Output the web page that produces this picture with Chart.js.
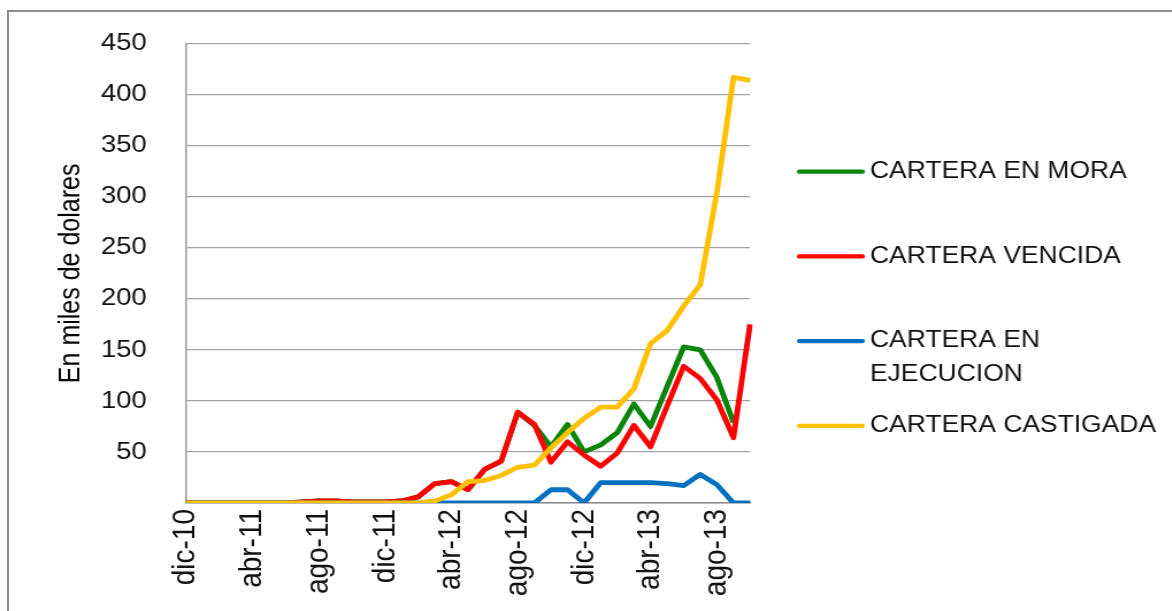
<!DOCTYPE html>
<html>
<head>
<meta charset="utf-8">
<script src="https://cdn.jsdelivr.net/npm/chart.js@4.4.1/dist/chart.umd.min.js"></script>
<style>
  html, body { margin: 0; padding: 0; background: #fff; overflow: hidden; }
  #frame {
    position: absolute; left: 7px; top: 10px; width: 1300px; height: 800px;
    border-top: 2px solid #8c8c8c; border-left: 2px solid #8c8c8c;
  }
  #wrap {
    position: absolute; left: 0; top: 0; width: 1019px; height: 611px;
    transform: scaleX(1.15); transform-origin: 0 0;
  }
</style>
</head>
<body>
<div id="frame"></div>
<div id="wrap"><canvas id="c" width="1019" height="611"></canvas></div>
<script>
// Months of the series (Dec 2010 - Oct 2013)
const months = [
  'dic-10','ene-11','feb-11','mar-11','abr-11','may-11','jun-11','jul-11','ago-11','sep-11','oct-11','nov-11',
  'dic-11','ene-12','feb-12','mar-12','abr-12','may-12','jun-12','jul-12','ago-12','sep-12','oct-12','nov-12',
  'dic-12','ene-13','feb-13','mar-13','abr-13','may-13','jun-13','jul-13','ago-13','sep-13','oct-13'
];
// Months that carry a label on the horizontal axis
const axisMonths = ['dic-10','abr-11','ago-11','dic-11','abr-12','ago-12','dic-12','abr-13','ago-13'];

const seriesNames = ['CARTERA EN MORA', 'CARTERA VENCIDA', 'CARTERA EN EJECUCION', 'CARTERA CASTIGADA'];
const seriesColors = ['#0a850a', '#ff0000', '#0070c0', '#ffc000'];

// Values in thousands of dollars
const carteraMora = [0,0,0,0,0,0,0,1,2,2,1,1,1,2,6,19,21,13,33,41,89,76,55,77,50,57,69,97,75,114,153,150,123,79,null];
const carteraVencida = [0,0,0,0,0,0,0,1,2,2,1,1,1,2,6,19,21,13,33,41,89,77,40,60,47,36,49,76,55,95,134,122,101,64,175];
const carteraEjecucion = [0,0,0,0,0,0,0,0,0,0,0,0,0,0,0,0,0,0,0,0,0,0,13,13,0,20,20,20,20,19,17,28,18,0,0];
const carteraCastigada = [0,0,0,0,0,0,0,0,0,0,0,0,0,0,0,2,8,21,22,27,35,37,54,69,83,94,94,112,156,169,193,214,304,417,414];

const yTicks = [0, 50, 100, 150, 200, 250, 300, 350, 400, 450];

const FONT = '"Liberation Sans", Arial, sans-serif';

// Legend drawn at the right side, one item per dataset, long labels wrapped
const sideLegend = {
  id: 'sideLegend',
  afterDraw(chart, args, o) {
    const ctx = chart.ctx;
    ctx.save();
    ctx.font = o.size + 'px ' + FONT;
    ctx.textBaseline = 'middle';
    ctx.textAlign = 'left';
    chart.data.datasets.forEach((ds, i) => {
      const y = o.top + i * o.step;
      ctx.strokeStyle = ds.borderColor;
      ctx.lineWidth = o.lineWidth;
      ctx.lineCap = 'round';
      ctx.beginPath();
      ctx.moveTo(o.x, y);
      ctx.lineTo(o.x + o.lineLen, y);
      ctx.stroke();
      ctx.fillStyle = o.color;
      const words = ds.label.split(' ');
      let line = '';
      let ly = y;
      words.forEach(w => {
        const test = line ? line + ' ' + w : w;
        if (line && ctx.measureText(test).width > o.maxWidth) {
          ctx.fillText(line, o.textX, ly);
          line = w;
          ly += o.lineGap;
        } else {
          line = test;
        }
      });
      if (line) ctx.fillText(line, o.textX, ly);
    });
    ctx.restore();
  }
};

const mk = (i, data, order) => ({
  label: seriesNames[i],
  data: data,
  borderColor: seriesColors[i],
  backgroundColor: seriesColors[i],
  borderWidth: 4.8,
  pointRadius: 0,
  tension: 0,
  fill: false,
  spanGaps: false,
  borderJoinStyle: 'round',
  order: order
});

new Chart(document.getElementById('c'), {
  type: 'line',
  data: {
    labels: months,
    datasets: [
      mk(0, carteraMora, 3),
      mk(1, carteraVencida, 2),
      mk(2, carteraEjecucion, 1),
      mk(3, carteraCastigada, 0)
    ]
  },
  options: {
    responsive: false,
    animation: false,
    devicePixelRatio: 1,
    layout: { padding: { left: 0, right: 366.8, top: 43.7, bottom: 0 } },
    plugins: {
      legend: { display: false },
      tooltip: { enabled: false },
      sideLegend: {
        x: 695, lineLen: 55, lineWidth: 4.2, textX: 756.5,
        top: 171.7, step: 84.7, lineGap: 34,
        size: 23, color: '#111', maxWidth: 258
      }
    },
    scales: {
      x: {
        type: 'category',
        offset: false,
        grid: { display: true, color: 'transparent', drawTicks: false },
        border: { display: true, color: '#8c8c8c', width: 1.5 },
        ticks: {
          autoSkip: false,
          minRotation: 90,
          maxRotation: 90,
          padding: 6,
          color: '#111',
          font: { family: FONT, size: 28 },
          callback: function (value, index) {
            const m = months[index];
            return axisMonths.includes(m) ? m : '';
          }
        },
        afterFit(scale) { scale.height = 108; }
      },
      y: {
        min: 0,
        max: 450,
        grid: { color: '#a3a3a3', lineWidth: 1.3, drawTicks: false },
        border: { display: true, color: '#9a9a9a', width: 1.5 },
        afterBuildTicks(scale) { scale.ticks = yTicks.map(v => ({ value: v })); },
        ticks: {
          padding: 34,
          color: '#111',
          font: { family: FONT, size: 24 },
          callback: v => (v === 0 ? '' : String(v))
        },
        title: {
          display: true,
          text: 'En miles de dolares',
          color: '#000',
          font: { family: FONT, size: 25 },
          padding: { top: 47, bottom: 0 }
        },
        afterFit(scale) {
          scale.width = 161.7;
          scale.paddingTop = 0;
          scale.paddingBottom = 0;
        }
      }
    }
  },
  plugins: [sideLegend]
});
</script>
</body>
</html>
